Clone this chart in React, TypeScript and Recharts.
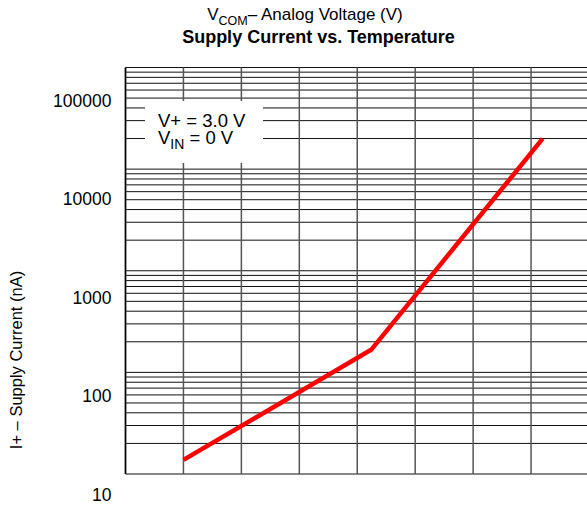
import { LineChart, Line, XAxis, YAxis, CartesianGrid } from 'recharts'

// Supply current vs. temperature (log y). Grid decades and printed labels don't line up
// in the source sheet, so the labels ride on their own log axis.

const TEMPS = [-25, 56, 130]
const CURRENT_NA = [22.5, 295, 41000]

const X_TICKS = [-50, -25, 0, 25, 50, 75, 100, 125, 150]
const Y_LABELS = [10, 100, 1000, 10000, 100000]
const DECADES = [10, 100, 1000, 10000]
const MINOR = [1, 2, 3, 4, 5, 6, 7, 8, 9]
const GRID_TICKS = [...DECADES.flatMap((d) => MINOR.map((m) => m * d)), 100000]

const FONT = '"Liberation Sans", Arial, sans-serif'

export default function App() {
  const data = TEMPS.map((t, i) => ({ t, current: CURRENT_NA[i] }))

  return (
    <div style={{ position: 'relative', width: 587, height: 508, overflow: 'hidden', fontFamily: FONT, color: '#000' }}>
      <style>{'html,body{margin:0;overflow:hidden;background:#fff}'}</style>
      <LineChart width={600} height={508} data={data} margin={{ top: 67.5, right: 11, left: 0, bottom: 34 }}>
        <CartesianGrid vertical={false} stroke="#111" strokeWidth={1} />
        <CartesianGrid horizontal={false} stroke="#555" strokeWidth={1.5} />
        <XAxis dataKey="t" type="number" domain={[-50, 150]} ticks={X_TICKS} interval={0} height={0} hide allowDataOverflow />
        <YAxis
          yAxisId="lab"
          scale="log"
          type="number"
          domain={[16.19, 216300]}
          ticks={Y_LABELS}
          interval={0}
          allowDataOverflow
          width={125.5}
          tickLine={false}
          tickSize={0}
          tickMargin={14}
          axisLine={{ stroke: '#000', strokeWidth: 1.5 }}
          tick={{ fill: '#000', fontSize: 17.5, fontFamily: FONT }}
        />
        <YAxis scale="log" type="number" domain={[10, 100000]} ticks={GRID_TICKS} interval={0} width={0} hide allowDataOverflow />
        <Line
          yAxisId="lab"
          type="linear"
          dataKey="current"
          stroke="#ff0000"
          strokeWidth={4.5}
          dot={false}
          isAnimationActive={false}
        />
      </LineChart>

      <div style={{ position: 'absolute', left: 305, top: 6.3, transform: 'translateX(-50%)', fontSize: 17, lineHeight: 1, whiteSpace: 'nowrap' }}>
        V<span style={{ fontSize: 12.5, position: 'relative', top: 4.5 }}>COM</span>– Analog Voltage (V)
      </div>
      <div style={{ position: 'absolute', left: 318.5, top: 27.5, transform: 'translateX(-50%)', fontSize: 18, fontWeight: 'bold', lineHeight: 1, whiteSpace: 'nowrap' }}>
        Supply Current vs. Temperature
      </div>

      <div style={{ position: 'absolute', left: 145, top: 101, width: 118, height: 62, background: '#fff' }}>
        <div style={{ position: 'absolute', left: 13, top: 11.5, fontSize: 18.5, lineHeight: 0.9, whiteSpace: 'nowrap' }}>V+ = 3.0 V</div>
        <div style={{ position: 'absolute', left: 13, top: 29, fontSize: 18.5, lineHeight: 0.9, whiteSpace: 'nowrap' }}>
          V<span style={{ fontSize: 14, position: 'relative', top: 5 }}>IN</span> = 0 V
        </div>
      </div>

      <div style={{ position: 'absolute', left: 15.5, top: 360, transform: 'translate(-50%, -50%) rotate(-90deg)', fontSize: 16.5, lineHeight: 1.15, whiteSpace: 'nowrap' }}>
        I+ – Supply Current (nA)
      </div>
    </div>
  )
}
